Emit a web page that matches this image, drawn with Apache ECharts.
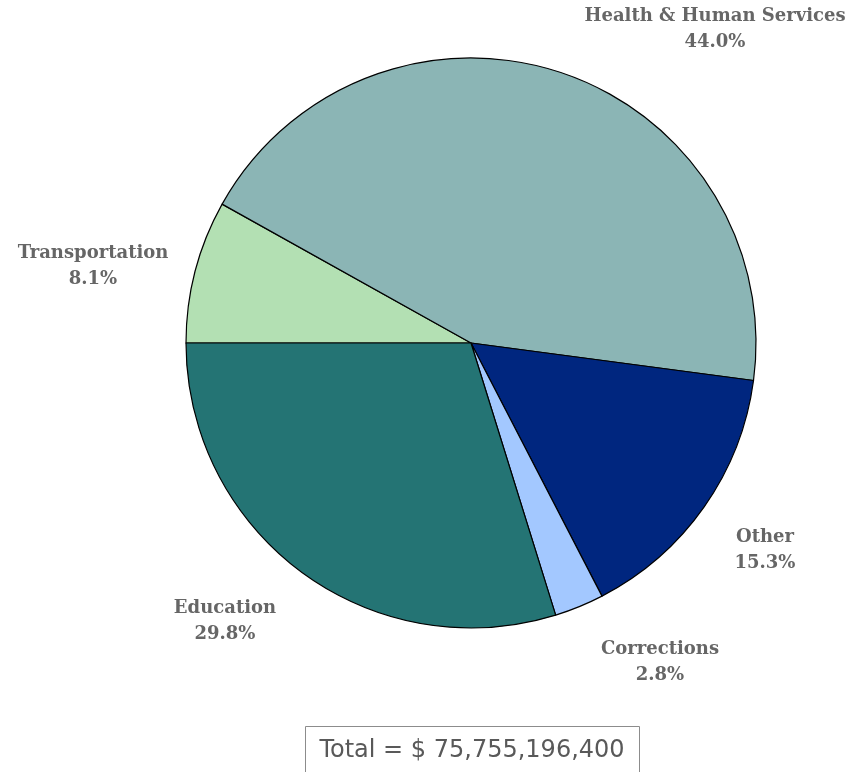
<!DOCTYPE html>
<html>
<head>
<meta charset="utf-8">
<title>State Expenditures</title>
<script src="https://cdn.jsdelivr.net/npm/echarts@6/dist/echarts.min.js"></script>
<style>
  html, body { margin: 0; padding: 0; background: #ffffff; }
  #chart { width: 858px; height: 772px; }
</style>
</head>
<body>
<div id="chart"></div>
<script>
// Spending categories, in clockwise order starting from 9 o'clock
const categories = ['Transportation', 'Health & Human Services', 'Other', 'Corrections', 'Education'];
const shares = [8.1, 44.0, 15.3, 2.8, 29.8];
const totalLabel = 'Total = $ 75,755,196,400';

const sliceColors = ['#b3e0b3', '#8bb5b5', '#00267f', '#a3c8ff', '#247474'];
// Label centres (px) for each slice, same order as categories
const labelAnchors = [[93, 266], [715, 29], [765, 550], [660, 662], [225, 621]];

const chart = echarts.init(document.getElementById('chart'), null, { renderer: 'canvas' });

chart.setOption({
  animation: false,
  series: [{
    type: 'pie',
    center: [471, 343],
    radius: [0, 285],
    startAngle: 180,
    clockwise: true,
    silent: true,
    avoidLabelOverlap: false,
    itemStyle: { borderColor: '#000000', borderWidth: 1.2 },
    label: {
      show: true,
      position: 'outside',
      overflow: 'none',
      width: 400,
      formatter: p => p.name + '\n' + p.value.toFixed(1) + '%',
      fontFamily: 'DejaVu Serif',
      fontWeight: 'bold',
      fontSize: 18,
      lineHeight: 26,
      color: '#666666',
      align: 'center'
    },
    labelLine: { show: false },
    labelLayout: params => {
      const a = labelAnchors[params.dataIndex];
      return { x: a[0], y: a[1], align: 'center', verticalAlign: 'middle' };
    },
    data: categories.map((name, i) => ({
      name: name,
      value: shares[i],
      itemStyle: { color: sliceColors[i] }
    }))
  }],
  graphic: [{
    type: 'group',
    children: [{
      type: 'rect',
      shape: { x: 305.5, y: 726.5, width: 334, height: 46 },
      style: { fill: '#ffffff', stroke: '#8c8c8c', lineWidth: 1 }
    }, {
      type: 'text',
      x: 472,
      y: 751,
      style: {
        text: totalLabel,
        fontFamily: 'DejaVu Sans',
        fontSize: 24,
        fill: '#595959',
        align: 'center',
        verticalAlign: 'middle'
      }
    }]
  }]
});
</script>
</body>
</html>
